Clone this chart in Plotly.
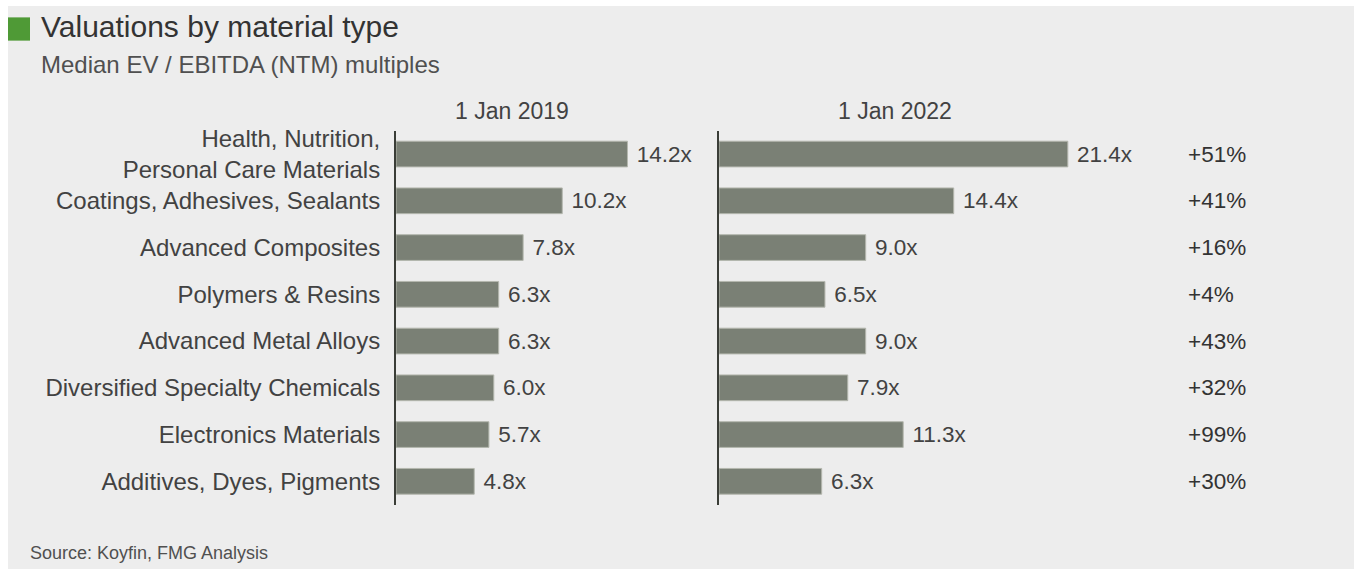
import plotly.graph_objects as go

# Material categories, listed top to bottom
categories = [
    "Health, Nutrition,<br>Personal Care Materials",
    "Coatings, Adhesives, Sealants",
    "Advanced Composites",
    "Polymers & Resins",
    "Advanced Metal Alloys",
    "Diversified Specialty Chemicals",
    "Electronics Materials",
    "Additives, Dyes, Pigments",
]
# Median EV / EBITDA (NTM) multiples
ev_2019 = [14.2, 10.2, 7.8, 6.3, 6.3, 6.0, 5.7, 4.8]
ev_2022 = [21.4, 14.4, 9.0, 6.5, 9.0, 7.9, 11.3, 6.3]
# Change between the two dates
pct_change = ["+51%", "+41%", "+16%", "+4%", "+43%", "+32%", "+99%", "+30%"]
period_labels = ["1 Jan 2019", "1 Jan 2022"]

W, H = 1354, 569
FONT = "Liberation Sans, Arial, Helvetica, sans-serif"
BAR = "#7a8075"
BAR_EDGE = "#b4b7ae"
TXT = "#424242"
PX_PER_UNIT = 16.3

def px(x):
    return x / W

def py(y):
    return 1 - y / H

# panel geometry in pixels
left_x0, left_x1 = 396, 706
right_x0, right_x1 = 719, 1180
y_top, y_bot = 126, 504

fig = go.Figure()

def fmt(v):
    return "\u00a0" + f"{v:.1f}x"

for vals, xa, ya in [(ev_2019, "x", "y"), (ev_2022, "x2", "y2")]:
    fig.add_trace(go.Bar(
        x=vals, y=categories, orientation="h",
        marker=dict(color=BAR, line=dict(color=BAR_EDGE, width=1)),
        text=[fmt(v) for v in vals], textposition="outside", cliponaxis=False,
        textfont=dict(family=FONT, size=22.5, color=TXT),
        xaxis=xa, yaxis=ya, showlegend=False, hoverinfo="skip",
    ))

axis_common = dict(showgrid=False, zeroline=False, showticklabels=False, fixedrange=True)

fig.update_layout(
    width=W, height=H,
    margin=dict(l=0, r=0, t=0, b=0),
    paper_bgcolor="white",
    plot_bgcolor="rgba(0,0,0,0)",
    bargap=0.45,
    font=dict(family=FONT, color=TXT),
    xaxis=dict(domain=[px(left_x0), px(left_x1)],
               range=[0, (left_x1 - left_x0) / PX_PER_UNIT], anchor="y", **axis_common),
    xaxis2=dict(domain=[px(right_x0), px(right_x1)],
                range=[0, (right_x1 - right_x0) / PX_PER_UNIT], anchor="y2", **axis_common),
    yaxis=dict(domain=[py(y_bot), py(y_top)], anchor="x",
               categoryorder="array", categoryarray=categories,
               range=[len(categories) - 0.5, -0.5],
               showline=True, linecolor="#3a3d37", linewidth=2,
               showgrid=False, zeroline=False, ticks="", ticklabelstandoff=9,
               tickfont=dict(family=FONT, size=24, color=TXT), fixedrange=True),
    yaxis2=dict(domain=[py(y_bot), py(y_top)], anchor="x2",
                categoryorder="array", categoryarray=categories,
                range=[len(categories) - 0.5, -0.5],
                showline=True, linecolor="#3a3d37", linewidth=2,
                showgrid=False, zeroline=False, ticks="", showticklabels=False,
                fixedrange=True),
)

# light panel background and green title marker
fig.add_shape(type="rect", xref="paper", yref="paper",
              x0=px(8), x1=1, y0=0, y1=1,
              fillcolor="#ededed", line=dict(width=0), layer="below")
fig.add_shape(type="rect", xref="paper", yref="paper",
              x0=px(8), x1=px(30), y0=py(35), y1=py(11.5),
              fillcolor="#4f9a36", line=dict(width=0))

annotations = [
    dict(text="Valuations by material type", x=px(39), y=py(21),
         font=dict(size=30, color="#333333")),
    dict(text="Median EV / EBITDA (NTM) multiples", x=px(39), y=py(59),
         font=dict(size=24, color="#505050")),
    dict(text="Source: Koyfin, FMG Analysis", x=px(28), y=py(553),
         font=dict(size=18, color="#505050")),
]
for a in annotations:
    fig.add_annotation(xref="paper", yref="paper", xanchor="left", yanchor="middle",
                       showarrow=False, **a)

# period headers above each panel
for label, cx in zip(period_labels, [512, 895]):
    fig.add_annotation(text=label, xref="paper", yref="paper", x=px(cx), y=py(106),
                       xanchor="center", yanchor="middle", showarrow=False,
                       font=dict(family=FONT, size=23, color=TXT))

# percentage change column
for cat, p in zip(categories, pct_change):
    fig.add_annotation(text=p, xref="paper", yref="y2", x=px(1186), y=cat,
                       xanchor="left", yanchor="middle", showarrow=False,
                       font=dict(family=FONT, size=22.5, color="#333333"))

fig.write_html("out.html")
